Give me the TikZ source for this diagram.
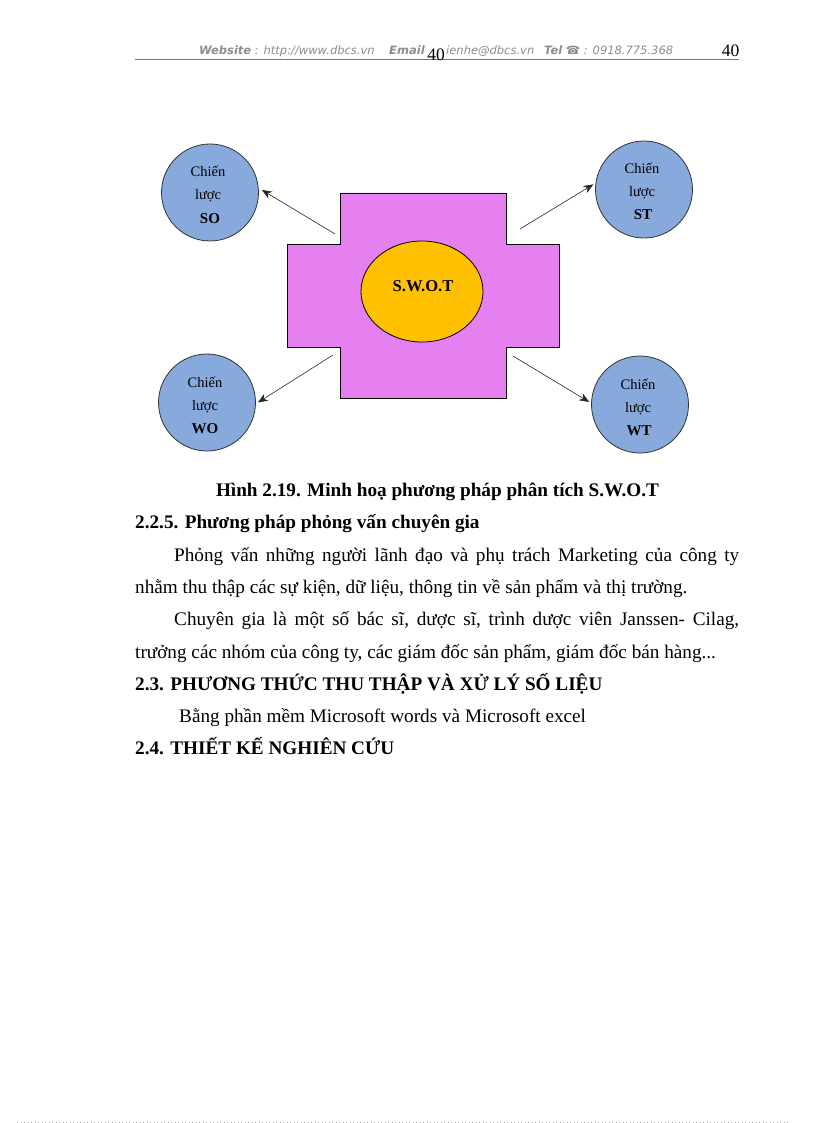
\documentclass[tikz,border=0pt]{standalone}
\usepackage{fontspec}
\usetikzlibrary{arrows.meta,shapes.geometric}
\setmainfont{Liberation Serif}
\newfontfamily\hdrfont{DejaVu Sans}
\definecolor{crossfill}{HTML}{E680F0}
\definecolor{ovalfill}{HTML}{FFC000}
\definecolor{circfill}{HTML}{87A9DC}
\definecolor{hdrgray}{HTML}{8C8C8C}
\tikzset{
 strat/.style={circle,draw=black!80,line width=0.8pt,fill=circfill,inner sep=0pt,minimum size=97pt,align=center},
 cirtxt/.style={font=\fontsize{14.5}{14}\selectfont,anchor=base,inner sep=0pt},
 cirbold/.style={font=\bfseries\fontsize{15}{14}\selectfont,anchor=base,inner sep=0pt},
 arr/.style={-{Stealth[length=10pt,width=8pt]},line width=0.6pt,black!85},
 lineL/.style={anchor=base west,inner sep=0pt,font=\fontsize{19.2}{22}\selectfont},
 lineB/.style={anchor=base west,inner sep=0pt,font=\bfseries\fontsize{19.2}{22}\selectfont},
 hdr/.style={anchor=base west,inner sep=0pt,text=hdrgray,font=\hdrfont\itshape\fontsize{11.5}{13}\selectfont},
 pg/.style={anchor=base,inner sep=0pt,font=\fontsize{17.5}{18}\selectfont}
}
\begin{document}
\begin{tikzpicture}[x=1pt,y=-1pt]
\useasboundingbox (0,0) rectangle (816,1123);
% header
\node[hdr] (h1) at (199,55) {\textbf{Website} : http://www.dbcs.vn};
\node[hdr] (h2) at (389,55) {\textbf{Email}};
\node[hdr] (h3) at (446,55) {ienhe@dbcs.vn};
\node[hdr] (h4) at (544,55) {\textbf{Tel} ☎ : 0918.775.368};
\coordinate (ra) at (135,59.5); \coordinate (rb) at (739,59.5);
\draw[black!55,line width=1pt] (ra) -- (rb);
\node[pg] (p1) at (436,61) {40};
\node[pg] (p2) at (730.5,57) {40};
\coordinate (ba) at (17,1122); \coordinate (bb) at (790,1122);
\draw[black!35,line width=0.6pt,dash pattern=on 1pt off 2.5pt] (ba) -- (bb);
% cross
\path[draw=black,line width=0.8pt,fill=crossfill] (340,193) -- (506,193) -- (506,244) -- (559,244) -- (559,347) -- (506,347) -- (506,398) -- (340,398) -- (340,347) -- (287,347) -- (287,244) -- (340,244) -- cycle;
\node[ellipse,draw=black,line width=0.8pt,fill=ovalfill,minimum width=122pt,minimum height=101pt,inner sep=0pt] (swot) at (422,291.5) {};
\node[anchor=base,inner sep=0pt,font=\bfseries\fontsize{16.6}{16}\selectfont] (swott) at (423,291) {S.W.O.T};
% circles
\node[strat] (so) at (210,192.5) {};
\node[strat] (wo) at (207,402.5) {};
\node[strat] (st) at (644,189.5) {};
\node[strat] (wt) at (640,404.5) {};
\node[cirtxt] (so1) at (208,177) {Chiến};
\node[cirtxt] (so2) at (208,200) {lược};
\node[cirbold] (so3) at (210,223) {SO};
\node[cirtxt] (wo1) at (205,387) {Chiến};
\node[cirtxt] (wo2) at (205,410) {lược};
\node[cirbold] (wo3) at (205,433) {WO};
\node[cirtxt] (st1) at (642,174) {Chiến};
\node[cirtxt] (st2) at (642,197) {lược};
\node[cirbold] (st3) at (643,220) {ST};
\node[cirtxt] (wt1) at (638,389) {Chiến};
\node[cirtxt] (wt2) at (638,412) {lược};
\node[cirbold] (wt3) at (639,435) {WT};
% arrows
\coordinate (a1) at (335,234); \coordinate (a2) at (333,355);
\coordinate (a3) at (520,229); \coordinate (a4) at (513,356);
\draw[arr] (a1) -- ([xshift=3pt]so.3);
\draw[arr] (a2) -- ([xshift=2pt]wo.east);
\draw[arr] (a3) -- ([xshift=-2pt]st.174);
\draw[arr] (a4) -- ([xshift=-2pt]wt.177);
% text
\node[lineB,anchor=base] (cap) at (437.5,496) {Hình 2.19. Minh hoạ phương pháp phân tích S.W.O.T};
\node[lineB] (t1) at (135,528) {2.2.5. Phương pháp phỏng vấn chuyên gia};
\node[lineL] (t2) at (174,561) {\hbox to 565pt{Phỏng\hfil{} vấn\hfil{} những\hfil{} người\hfil{} lãnh\hfil{} đạo\hfil{} và\hfil{} phụ\hfil{} trách\hfil{} Marketing\hfil{} của\hfil{} công\hfil{} ty}};
\node[lineL] (t3) at (135,593) {nhằm thu thập các sự kiện, dữ liệu, thông tin về sản phẩm và thị trường.};
\node[lineL] (t4) at (174,625) {\hbox to 565pt{Chuyên\hfil{} gia\hfil{} là\hfil{} một\hfil{} số\hfil{} bác\hfil{} sĩ,\hfil{} dược\hfil{} sĩ,\hfil{} trình\hfil{} dược\hfil{} viên\hfil{} Janssen-\hfil{} Cilag,}};
\node[lineL] (t5) at (135,658) {trưởng các nhóm của công ty, các giám đốc sản phẩm, giám đốc bán hàng...};
\node[lineB] (t6) at (135,690) {2.3. PHƯƠNG THỨC THU THẬP VÀ XỬ LÝ SỐ LIỆU};
\node[lineL] (t7) at (179,722) {Bằng phần mềm Microsoft words và Microsoft excel};
\node[lineB] (t8) at (135,754) {2.4. THIẾT KẾ NGHIÊN CỨU};
\end{tikzpicture}
\end{document}
